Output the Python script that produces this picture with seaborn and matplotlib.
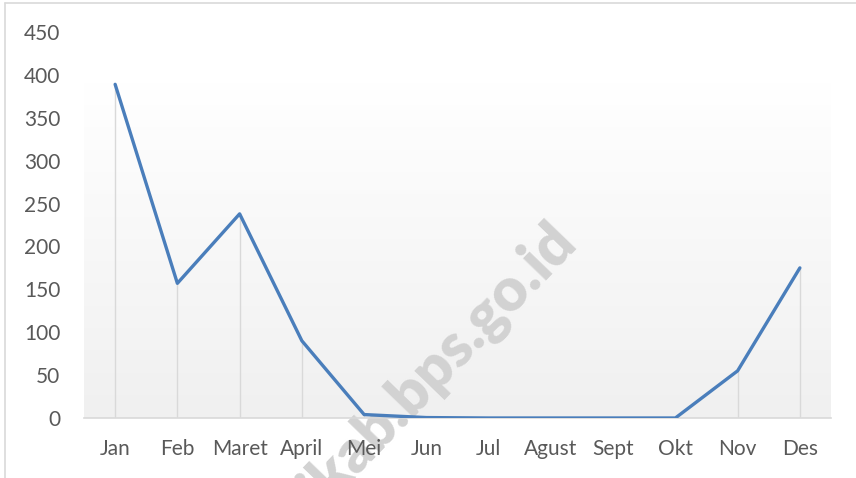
import matplotlib.pyplot as plt
import seaborn as sns
import pandas as pd
import numpy as np
from matplotlib.colors import LinearSegmentedColormap
from matplotlib.lines import Line2D

bulan = ['Jan', 'Feb', 'Maret', 'April', 'Mei', 'Jun', 'Jul', 'Agust', 'Sept', 'Okt', 'Nov', 'Des']
nilai = [389, 157, 238, 90, 4, 0.5, 0, 0, 0, 0, 55, 175]
y_ticks = [0, 50, 100, 150, 200, 250, 300, 350, 400, 450]

df = pd.DataFrame({'bulan': bulan, 'nilai': nilai})
df['pos'] = range(len(bulan))

sns.set_style('white')
plt.rcParams['font.family'] = ['Lato', 'DejaVu Sans']

fig = plt.figure(figsize=(8.56, 4.78), dpi=100)
ax = fig.add_axes([84 / 856, 60 / 478, 747 / 856, 386 / 478])

# gradient plot area (light gray at bottom -> white at top)
grad = np.linspace(0, 1, 256).reshape(-1, 1)
cmap = LinearSegmentedColormap.from_list('g', ['#f0f0f0', '#ffffff'])
ax.imshow(grad, cmap=cmap, extent=[-0.5, 11.5, 0, 391], aspect='auto', zorder=0, origin='lower')

# drop lines
ax.vlines(df['pos'], 0, df['nilai'], color='#d9d9d9', lw=1.0, zorder=1)

sns.lineplot(data=df, x='pos', y='nilai', ax=ax, color='#4a7ebb', lw=2.4, zorder=3)

ax.set_xlim(-0.5, 11.5)
ax.set_ylim(0, 450)
ax.set_xticks(df['pos'])
ax.set_xticklabels(bulan)
ax.set_yticks(y_ticks)
ax.tick_params(axis='both', length=0, labelsize=15, colors='#595959')
ax.tick_params(axis='y', pad=17)
ax.tick_params(axis='x', pad=15)
ax.set_xlabel('')
ax.set_ylabel('')
ax.set_axisbelow(False)
for s in ['top', 'right', 'left']:
    ax.spines[s].set_visible(False)
ax.spines['bottom'].set_color('#d9d9d9')
ax.spines['bottom'].set_linewidth(1.2)
ax.patch.set_alpha(0)

# watermark (behind the line and tick labels)
ax.text(566 / 856, 1 - 232 / 478, 'ikab.bps.go.id', transform=fig.transFigure,
        rotation=46, rotation_mode='anchor', fontsize=43, fontweight='heavy',
        color='#d2d2d2', ha='right', va='center', zorder=0.5, clip_on=False)

# chart border
fig.add_artist(Line2D([5 / 856, 5 / 856], [0, 1 - 3 / 478], color='#d9d9d9', lw=1.2))
fig.add_artist(Line2D([5 / 856, 1], [1 - 3 / 478, 1 - 3 / 478], color='#d9d9d9', lw=1.2))

fig.savefig('out.png', dpi=100, facecolor='white')
